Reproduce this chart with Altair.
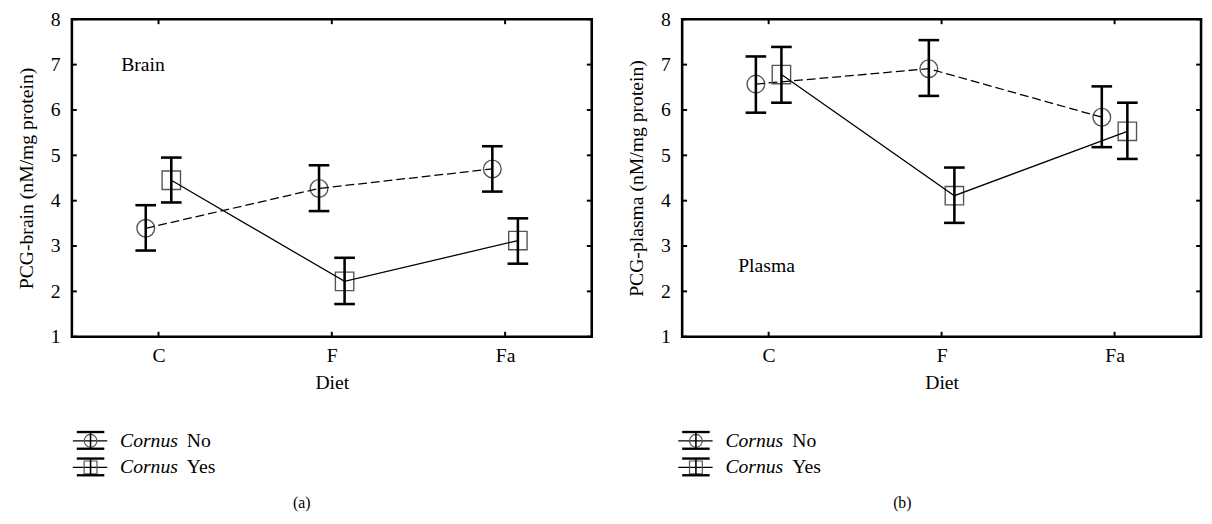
import altair as alt
import pandas as pd

# ---------------- data ----------------
diet = ["C", "F", "Fa"]
y_ticks = [1, 2, 3, 4, 5, 6, 7, 8]

brain_no_mean = [3.39, 4.27, 4.70]
brain_no_lo = [2.90, 3.77, 4.20]
brain_no_hi = [3.90, 4.78, 5.20]
brain_yes_mean = [4.45, 2.22, 3.12]
brain_yes_lo = [3.96, 1.72, 2.61]
brain_yes_hi = [4.95, 2.74, 3.61]

plasma_no_mean = [6.57, 6.91, 5.84]
plasma_no_lo = [5.94, 6.31, 5.18]
plasma_no_hi = [7.18, 7.54, 6.52]
plasma_yes_mean = [6.78, 4.11, 5.53]
plasma_yes_lo = [6.16, 3.51, 4.92]
plasma_yes_hi = [7.39, 4.73, 6.16]

# ---------------- styling ----------------
FONT = "Liberation Serif"
FS = 20
H = 323
W_L, W_R = 529, 528
DODGE = 13
MARK_GRAY = "#555555"

x_axis = alt.Axis(title="Diet", labelAngle=0, ticks=False, domain=False, grid=False,
                  labelFont=FONT, labelFontSize=FS, labelColor="black", labelPadding=9,
                  titleFont=FONT, titleFontSize=FS, titleFontWeight="normal",
                  titleColor="black", titlePadding=8)


def y_axis(title):
    return alt.Axis(title=title, values=y_ticks, ticks=False, domain=False, grid=False,
                    labelFont=FONT, labelFontSize=FS, labelColor="black", labelPadding=12,
                    titleFont=FONT, titleFontSize=FS, titleFontWeight="normal",
                    titleColor="black", titlePadding=14)


def panel(no, yes, ytitle, note, note_y, note_dx, caption, width, leg_x, cap_x):
    xs = alt.Scale(type="point", domain=diet, padding=0.5)
    ys = alt.Scale(domain=[1, 8], nice=False, zero=False)
    ya = y_axis(ytitle)
    X = alt.X("diet:N", scale=xs, axis=x_axis)

    def Y(f):
        return alt.Y(f + ":Q", scale=ys, axis=ya)

    layers = []
    groups = [
        (no, -DODGE, "circle", [9, 4]),
        (yes, DODGE, "square", None),
    ]
    for (mean, lo, hi), off, shape, dash in groups:
        df = pd.DataFrame({"diet": diet, "mean": mean, "lo": lo, "hi": hi})
        base = alt.Chart(df)
        size = 324 if shape == "circle" else 350
        layers.append(base.mark_point(shape=shape, size=size, filled=False, color=MARK_GRAY,
                                      strokeWidth=1.4, xOffset=off, opacity=1)
                      .encode(x=X, y=Y("mean")))
        line_kw = dict(color="black", strokeWidth=1.3, xOffset=off)
        if dash:
            line_kw["strokeDash"] = dash
        layers.append(base.mark_line(**line_kw).encode(x=X, y=Y("mean")))
        layers.append(base.mark_rule(color="black", strokeWidth=2.6, xOffset=off)
                      .encode(x=X, y=Y("lo"), y2="hi"))
        for f in ("lo", "hi"):
            layers.append(base.mark_tick(color="black", thickness=2.6, size=21, xOffset=off,
                                         orient="horizontal", opacity=1)
                          .encode(x=X, y=Y(f)))

    # inward ticks on all four sides
    tick_df = pd.DataFrame({"v": y_ticks})
    tb = alt.Chart(tick_df)
    layers.append(tb.mark_rule(color="black", strokeWidth=2)
                  .encode(y=Y("v"), x=alt.value(0), x2=alt.value(5)))
    layers.append(tb.mark_rule(color="black", strokeWidth=2)
                  .encode(y=Y("v"), x=alt.value(width - 5), x2=alt.value(width)))
    cat_df = pd.DataFrame({"diet": diet})
    cb = alt.Chart(cat_df)
    layers.append(cb.mark_rule(color="black", strokeWidth=2)
                  .encode(x=X, y=alt.value(H - 5), y2=alt.value(H)))
    layers.append(cb.mark_rule(color="black", strokeWidth=2)
                  .encode(x=X, y=alt.value(0), y2=alt.value(5)))

    # panel note (Brain / Plasma)
    note_df = pd.DataFrame({"diet": ["C"], "v": [note_y], "t": [note]})
    layers.append(alt.Chart(note_df).mark_text(align="left", baseline="middle", dx=note_dx,
                                               font=FONT, fontSize=FS, color="black")
                  .encode(x=X, y=Y("v"), text="t:N"))

    # legend (drawn below the plot)
    one = alt.Chart(pd.DataFrame({"k": [0]}))
    gx = leg_x          # glyph left
    gc = gx + 18        # glyph centre
    rows = [("No", "circle", 429), ("Yes", "square", 456)]
    for word, shape, cy in rows:
        layers.append(one.mark_rule(color="black", strokeWidth=1.2)
                      .encode(x=alt.value(gx), x2=alt.value(gx + 35), y=alt.value(cy)))
        layers.append(one.mark_point(shape=shape, size=170, filled=False, color=MARK_GRAY,
                                     strokeWidth=1.2, opacity=1)
                      .encode(x=alt.value(gc), y=alt.value(cy)))
        layers.append(one.mark_rule(color="black", strokeWidth=2.4)
                      .encode(x=alt.value(gx + 4), x2=alt.value(gx + 32), y=alt.value(cy - 9)))
        layers.append(one.mark_rule(color="black", strokeWidth=2.4)
                      .encode(x=alt.value(gx + 4), x2=alt.value(gx + 32), y=alt.value(cy + 8)))
        layers.append(one.mark_rule(color="black", strokeWidth=1.6)
                      .encode(x=alt.value(gc), y=alt.value(cy - 9), y2=alt.value(cy + 8)))
        layers.append(one.mark_text(text="Cornus", align="left", baseline="alphabetic",
                                    font=FONT, fontSize=FS, fontStyle="italic", color="black")
                      .encode(x=alt.value(gx + 48), y=alt.value(cy + 6)))
        layers.append(one.mark_text(text=word, align="left", baseline="alphabetic",
                                    font=FONT, fontSize=FS, color="black")
                      .encode(x=alt.value(gx + 116), y=alt.value(cy + 6)))

    # caption
    layers.append(one.mark_text(text=caption, align="center", baseline="middle",
                                font=FONT, fontSize=16, color="black")
                  .encode(x=alt.value(cap_x), y=alt.value(492)))

    return alt.layer(*layers).properties(width=width, height=H)


left = panel((brain_no_mean, brain_no_lo, brain_no_hi),
             (brain_yes_mean, brain_yes_lo, brain_yes_hi),
             "PCG-brain (nM/mg protein)", "Brain", 7.0, -38, "(a)", W_L, 1, 234)
right = panel((plasma_no_mean, plasma_no_lo, plasma_no_hi),
              (plasma_yes_mean, plasma_yes_lo, plasma_yes_hi),
              "PCG-plasma (nM/mg protein)", "Plasma", 2.55, -31, "(b)", W_R, -4, 224)

chart = (alt.hconcat(left, right, spacing=31)
         .properties(padding={"left": 7, "top": -5, "right": 0, "bottom": 0})
         .configure_view(stroke="black", strokeWidth=2.6)
         .configure_concat(spacing=31))

chart.save("out.html", embed_options={"renderer": "svg", "actions": False})
